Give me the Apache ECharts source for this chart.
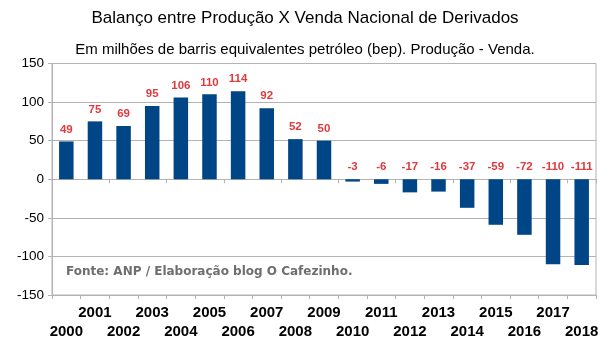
<!DOCTYPE html>
<html><head><meta charset="utf-8">
<script src="https://cdn.jsdelivr.net/npm/echarts@6/dist/echarts.min.js"></script>
<style>html,body{margin:0;padding:0;background:#fff}#c{width:610px;height:353px}</style>
</head><body><div id="c"></div>
<script>
const titleText = 'Balanço entre Produção X Venda Nacional de Derivados';
const subtitleText = 'Em milhões de barris equivalentes petróleo (bep). Produção - Venda.';
const sourceText = 'Fonte: ANP / Elaboração blog O Cafezinho.';
const years = ['2000','2001','2002','2003','2004','2005','2006','2007','2008','2009','2010','2011','2012','2013','2014','2015','2016','2017','2018'];
const balance = [49,75,69,95,106,110,114,92,52,50,-3,-6,-17,-16,-37,-59,-72,-110,-111];
const yTicks = [-150,-100,-50,0,50,100,150];

const chart = echarts.init(document.getElementById('c'), null, {renderer:'canvas'});
const font = 'Liberation Sans, Arial, sans-serif';
chart.setOption({
  animation:false,
  backgroundColor:'#fff',
  title:[
    {text:titleText,left:'center',top:5,textStyle:{fontFamily:font,fontSize:17,fontWeight:'normal',color:'#000'}},
    {text:subtitleText,left:'center',top:37,textStyle:{fontFamily:font,fontSize:15,fontWeight:'normal',color:'#000'}}
  ],
  grid:{left:52,right:14,top:63.5,bottom:58,show:true,borderColor:'#b3b3b3',borderWidth:1},
  xAxis:[
    {type:'category',data:years,axisLine:{onZero:true,lineStyle:{color:'#b3b3b3'}},
     axisTick:{show:true,length:4,inside:false,lineStyle:{color:'#b3b3b3'}},axisLabel:{show:false}},
    {type:'category',data:years,position:'bottom',axisLine:{onZero:false,show:true,lineStyle:{color:'#b3b3b3'}},
     axisTick:{show:true,length:4,lineStyle:{color:'#b3b3b3'}},
     axisLabel:{interval:0,hideOverlap:false,margin:8,fontFamily:font,fontSize:15,fontWeight:'bold',color:'#000',lineHeight:19,
       formatter:(v,i)=> i%2===0 ? '\n'+v : v}}
  ],
  yAxis:{type:'value',min:yTicks[0],max:yTicks[yTicks.length-1],interval:50,
    axisLine:{show:true,lineStyle:{color:'#b3b3b3'}},axisTick:{show:true,length:4,lineStyle:{color:'#b3b3b3'}},
    splitLine:{lineStyle:{color:'#b3b3b3'}},
    axisLabel:{margin:8,fontFamily:font,fontSize:13.5,color:'#000'}},
  series:[{
    type:'bar',xAxisIndex:0,barWidth:14.5,
    itemStyle:{color:'#004586'},
    data:balance,
    label:{show:true,position:'top',distance:6,fontFamily:font,fontSize:11.5,fontWeight:'bold',color:'#e0393e'}
  }],
  graphic:[{type:'text',left:66,top:266,style:{text:sourceText,font:'bold 12px "DejaVu Sans", Verdana, sans-serif',fill:'#6e6e6e'}}]
});
</script></body></html>
